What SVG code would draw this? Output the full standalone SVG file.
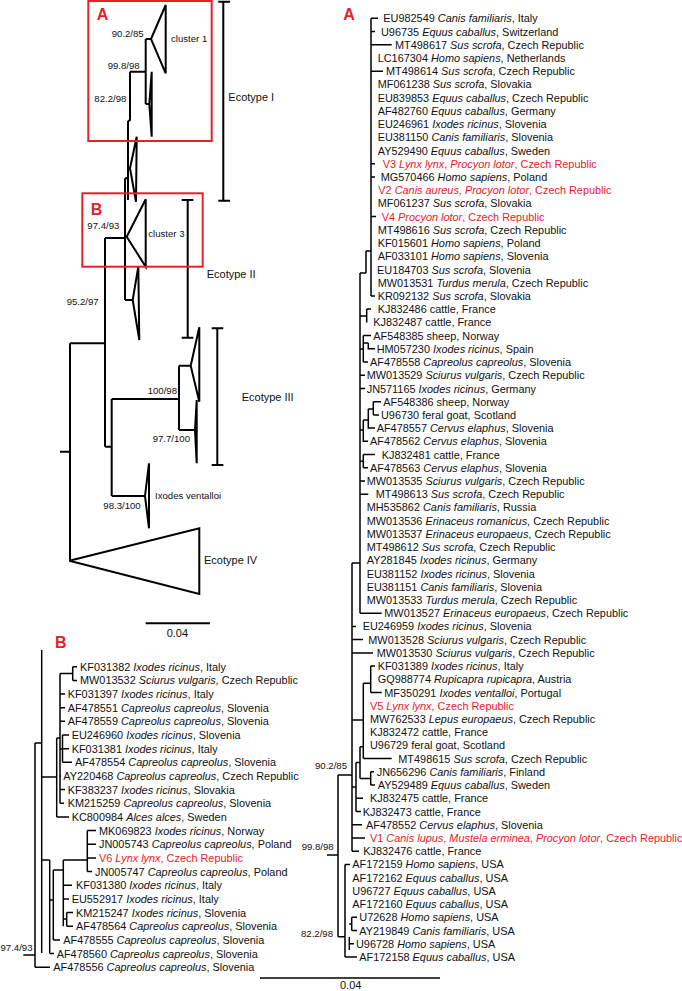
<svg xmlns="http://www.w3.org/2000/svg" width="682" height="991" viewBox="0 0 682 991">
<style>
.t{font-family:"Liberation Sans",Arial,sans-serif;font-size:10.9px;fill:#111}
.r{fill:#e8202a}
.i{font-style:italic}
.s{font-family:"Liberation Sans",Arial,sans-serif;font-size:9.6px;fill:#111}
.e{font-family:"Liberation Sans",Arial,sans-serif;font-size:11px;fill:#111}
.big{font-family:"Liberation Sans",Arial,sans-serif;font-size:16px;font-weight:bold;fill:#e8202a}
.br{stroke:#000;stroke-width:1.5;fill:none}
.ov{stroke:#000;stroke-width:2;fill:none;stroke-linejoin:miter}
.box{stroke:#e8202a;stroke-width:2;fill:none}
</style>
<rect width="682" height="991" fill="#fff"/>

<!-- Overview tree -->
<g id="overview">
  <g id="ov-connectors">
    <path class="ov" d="M60,451.7H70M70,343.3V560.7M70,343.3H105M105,238V446.7M105,446.7H111.7M111.7,399V496M111.7,399H179M179,365.7V430M179,365.7H190.7M179,430H195M111.7,496H145"/>
    <path class="ov" d="M105,238H125M125,178.3V300M125,300H132.7M125,178.3H128M128,120.7V200M128,120.7H130M130,71.7V120.7M130,71.7H145.7M145.7,39V104M145.7,39H151M145.7,104H149.3M128,168.3H130"/>
  </g>
  <g id="ov-cluster1"><polygon class="ov" points="151,39 165.7,5 165.7,73.3"/><text class="s" x="171" y="41.8">cluster 1</text></g>
  <g id="ov-usa"><polygon class="ov" points="149.3,104 151.7,71.7 151.7,136.7"/></g>
  <g id="ov-clade2"><polygon class="ov" points="130,168.3 136.7,136.7 136,201.7"/></g>
  <g id="ov-cluster3"><polygon class="ov" points="126.7,236.7 145.7,199.3 145.7,266.7"/><text class="s" x="148.3" y="236.8">cluster 3</text></g>
  <g id="ov-clade4"><polygon class="ov" points="132.7,300 138.3,266.7 139.3,340"/></g>
  <g id="ov-eco3a"><polygon class="ov" points="190.7,365.7 199.3,327.3 199.3,401.7"/></g>
  <g id="ov-eco3b"><polygon class="ov" points="195,430 196.7,400 196.7,463.3"/></g>
  <g id="ov-ventalloi"><polygon class="ov" points="145,496 149,463.3 149,528.3"/><text class="s" x="155" y="498.5">Ixodes ventalloi</text></g>
  <g id="ov-eco4"><polygon class="ov" points="69.3,560.7 199.3,528.3 199.3,594"/><text class="e" x="204" y="564">Ecotype IV</text></g>
  <g id="ov-support">
    <text class="s" x="111.7" y="37.3">90.2/85</text>
    <text class="s" x="107.7" y="68.5">99.8/98</text>
    <text class="s" x="94.3" y="101.8">82.2/98</text>
    <text class="s" x="87.3" y="228.5">97.4/93</text>
    <text class="s" x="66.7" y="305">95.2/97</text>
    <text class="s" x="147.7" y="394">100/98</text>
    <text class="s" x="152.7" y="442">97.7/100</text>
    <text class="s" x="103.3" y="508.5">98.3/100</text>
  </g>
  <g id="ov-ecotypes">
    <path class="ov" d="M223.3,1.7V200.7M218.3,1.7H230M218.3,200.7H230"/>
    <text class="e" x="228.3" y="100.7">Ecotype I</text>
    <path class="ov" d="M187.7,200V337.7M181.7,200H193.3M181.7,337.7H193.3"/>
    <text class="e" x="206.7" y="278">Ecotype II</text>
    <path class="ov" d="M217.3,328.3V465M211.7,328.3H223.3M211.7,465H223.3"/>
    <text class="e" x="241.7" y="400.7">Ecotype III</text>
  </g>
  <g id="ov-boxA"><rect class="box" x="88.3" y="1" width="123.4" height="140"/><text class="big" x="96.7" y="20">A</text></g>
  <g id="ov-boxB"><rect class="box" x="82.3" y="193.3" width="120.4" height="73.4"/><text class="big" x="90.7" y="215">B</text></g>
  <g id="ov-scale"><path class="ov" d="M145.7,623.3H210"/><text class="e" x="166.7" y="637.3">0.04</text></g>
</g>

<!-- Panel A -->
<g id="panelA">
  <text class="big" x="343.3" y="20">A</text>
  <g id="A-connectors">
    <path class="br" d="M371,18.3V295.9M371,18.3H378M371,31.5H375M371,44.7H391.7M371,71.2H383M371,163.7H375M371,176.9H375M371,216.6H376M371,295.9H375M366,251H371M366,251V273M360,273H366"/>
    <path class="br" d="M360,273V613.2M360,316H366.7M366.7,309.1V322.4M366.7,309.1H371M360,349H363.3M363.3,335.6V362M363.3,335.6H371M363.3,343H368.3M368.3,343V348.8H375M363.3,362H368M360,375.2H365M360,388.5H365M360,430H363.3M363.3,420V441.3H368M363.3,420H368.3M368.3,409V428.1H375M368.3,409H373.3M373.3,401.7V414.9M373.3,401.7H381M373.3,414.9H379M360,461.2H363.3M363.3,454.6V467.8M363.3,454.6H375M363.3,467.8H368M360,481H365M360,494.2H368.3M360,613.2H381.7"/>
    <path class="br" d="M352,563H360M352,563V851.2M352,626.4H356M352,639.6H363M352,652.9H373M352,720H363.3M363.3,683.3V758.6M363.3,683.3H370.7M370.7,666.1V692.5M370.7,666.1H375M370.7,692.5H381.7M363.3,758.6H391.7M360,746.7H363.3M360,746.7V778.4M360,778.4H370.7M370.7,771.8V785.1M370.7,771.8H374M370.7,785.1H375M356,762.5H360M356,762.5V811.5M356,798.3H363M356,811.5H361M352,787H356M352,824.7H362M352,837.9H365M352,851.2H359M338,775H352"/>
    <path class="br" d="M327,855H338M338,775V936.7M338,936.7H345M345,864.4V956.9M345,864.4H350M349.3,937V950M349.3,924H351.7M351.7,917.3V930.5M351.7,917.3H357M351.7,930.5H357M349.3,943.7H354M345,956.9H357"/>
  </g>
  <g id="A-support">
    <text class="s" x="315" y="768.5">90.2/85</text>
    <text class="s" x="301.7" y="849.5">99.8/98</text>
    <text class="s" x="301" y="937">82.2/98</text>
  </g>
  <g id="A-leaves" class="t">
<text id="a1" x="383.3" y="22.3">EU982549 <tspan class="i">Canis familiaris</tspan>, Italy</text>
<text id="a2" x="381" y="35.5">U96735 <tspan class="i">Equus caballus</tspan>, Switzerland</text>
<text id="a3" x="395" y="48.7">MT498617 <tspan class="i">Sus scrofa</tspan>, Czech Republic</text>
<text id="a4" x="377.7" y="62.0">LC167304 <tspan class="i">Homo sapiens</tspan>, Netherlands</text>
<text id="a5" x="386" y="75.2">MT498614 <tspan class="i">Sus scrofa</tspan>, Czech Republic</text>
<text id="a6" x="377.7" y="88.4">MF061238 <tspan class="i">Sus scrofa</tspan>, Slovakia</text>
<text id="a7" x="377.7" y="101.6">EU839853 <tspan class="i">Equus caballus</tspan>, Czech Republic</text>
<text id="a8" x="377.7" y="114.8">AF482760 <tspan class="i">Equus caballus</tspan>, Germany</text>
<text id="a9" x="377.7" y="128.1">EU246961 <tspan class="i">Ixodes ricinus</tspan>, Slovenia</text>
<text id="a10" x="377.7" y="141.3">EU381150 <tspan class="i">Canis familiaris</tspan>, Slovenia</text>
<text id="a11" x="377.7" y="154.5">AY529490 <tspan class="i">Equus caballus</tspan>, Sweden</text>
<text id="a12" class="r" x="382.7" y="167.7">V3 <tspan class="i">Lynx lynx</tspan>, <tspan class="i">Procyon lotor</tspan>, Czech Republic</text>
<text id="a13" x="380.7" y="180.9">MG570466 <tspan class="i">Homo sapiens</tspan>, Poland</text>
<text id="a14" class="r" x="378.3" y="194.2">V2 <tspan class="i">Canis aureus</tspan>, <tspan class="i">Procyon lotor</tspan>, Czech Republic</text>
<text id="a15" x="377.7" y="207.4">MF061237 <tspan class="i">Sus scrofa</tspan>, Slovakia</text>
<text id="a16" class="r" x="381.7" y="220.6">V4 <tspan class="i">Procyon lotor</tspan>, Czech Republic</text>
<text id="a17" x="377.7" y="233.8">MT498616 <tspan class="i">Sus scrofa</tspan>, Czech Republic</text>
<text id="a18" x="377.7" y="247.0">KF015601 <tspan class="i">Homo sapiens</tspan>, Poland</text>
<text id="a19" x="377.7" y="260.3">AF033101 <tspan class="i">Homo sapiens</tspan>, Slovenia</text>
<text id="a20" x="377" y="273.5">EU184703 <tspan class="i">Sus scrofa</tspan>, Slovenia</text>
<text id="a21" x="377.7" y="286.7">MW013531 <tspan class="i">Turdus merula</tspan>, Czech Republic</text>
<text id="a22" x="377.7" y="299.9">KR092132 <tspan class="i">Sus scrofa</tspan>, Slovakia</text>
<text id="a23" x="377.7" y="313.1">KJ832486 cattle, France</text>
<text id="a24" x="373.3" y="326.4">KJ832487 cattle, France</text>
<text id="a25" x="373.3" y="339.6">AF548385 sheep, Norway</text>
<text id="a26" x="376.7" y="352.8">HM057230 <tspan class="i">Ixodes ricinus</tspan>, Spain</text>
<text id="a27" x="370" y="366.0">AF478558 <tspan class="i">Capreolus capreolus</tspan>, Slovenia</text>
<text id="a28" x="366.7" y="379.2">MW013529 <tspan class="i">Sciurus vulgaris</tspan>, Czech Republic</text>
<text id="a29" x="366.7" y="392.5">JN571165 <tspan class="i">Ixodes ricinus</tspan>, Germany</text>
<text id="a30" x="383.3" y="405.7">AF548386 sheep, Norway</text>
<text id="a31" x="381" y="418.9">U96730 feral goat, Scotland</text>
<text id="a32" x="376.7" y="432.1">AF478557 <tspan class="i">Cervus elaphus</tspan>, Slovenia</text>
<text id="a33" x="370" y="445.3">AF478562 <tspan class="i">Cervus elaphus</tspan>, Slovenia</text>
<text id="a34" x="381.7" y="458.6">KJ832481 cattle, France</text>
<text id="a35" x="370" y="471.8">AF478563 <tspan class="i">Cervus elaphus</tspan>, Slovenia</text>
<text id="a36" x="366.7" y="485.0">MW013535 <tspan class="i">Sciurus vulgaris</tspan>, Czech Republic</text>
<text id="a37" x="375.7" y="498.2">MT498613 <tspan class="i">Sus scrofa</tspan>, Czech Republic</text>
<text id="a38" x="366.7" y="511.4">MH535862 <tspan class="i">Canis familiaris</tspan>, Russia</text>
<text id="a39" x="366.7" y="524.7">MW013536 <tspan class="i">Erinaceus romanicus</tspan>, Czech Republic</text>
<text id="a40" x="366.7" y="537.9">MW013537 <tspan class="i">Erinaceus europaeus</tspan>, Czech Republic</text>
<text id="a41" x="366.7" y="551.1">MT498612 <tspan class="i">Sus scrofa</tspan>, Czech Republic</text>
<text id="a42" x="366.7" y="564.3">AY281845 <tspan class="i">Ixodes ricinus</tspan>, Germany</text>
<text id="a43" x="366.7" y="577.5">EU381152 <tspan class="i">Ixodes ricinus</tspan>, Slovenia</text>
<text id="a44" x="366.7" y="590.8">EU381151 <tspan class="i">Canis familiaris</tspan>, Slovenia</text>
<text id="a45" x="366.7" y="604.0">MW013533 <tspan class="i">Turdus merula</tspan>, Czech Republic</text>
<text id="a46" x="384.3" y="617.2">MW013527 <tspan class="i">Erinaceus europaeus</tspan>, Czech Republic</text>
<text id="a47" x="362.7" y="630.4">EU246959 <tspan class="i">Ixodes ricinus</tspan>, Slovenia</text>
<text id="a48" x="368.3" y="643.6">MW013528 <tspan class="i">Sciurus vulgaris</tspan>, Czech Republic</text>
<text id="a49" x="376.7" y="656.9">MW013530 <tspan class="i">Sciurus vulgaris</tspan>, Czech Republic</text>
<text id="a50" x="377.7" y="670.1">KF031389 <tspan class="i">Ixodes ricinus</tspan>, Italy</text>
<text id="a51" x="377.7" y="683.3">GQ988774 <tspan class="i">Rupicapra rupicapra</tspan>, Austria</text>
<text id="a52" x="384.3" y="696.5">MF350291 <tspan class="i">Ixodes ventalloi</tspan>, Portugal</text>
<text id="a53" class="r" x="370" y="709.7">V5 <tspan class="i">Lynx lynx</tspan>, Czech Republic</text>
<text id="a54" x="370" y="723.0">MW762533 <tspan class="i">Lepus europaeus</tspan>, Czech Republic</text>
<text id="a55" x="370" y="736.2">KJ832472 cattle, France</text>
<text id="a56" x="370" y="749.4">U96729 feral goat, Scotland</text>
<text id="a57" x="398.3" y="762.6">MT498615 <tspan class="i">Sus scrofa</tspan>, Czech Republic</text>
<text id="a58" x="376.7" y="775.8">JN656296 <tspan class="i">Canis familiaris</tspan>, Finland</text>
<text id="a59" x="377.7" y="789.1">AY529489 <tspan class="i">Equus caballus</tspan>, Sweden</text>
<text id="a60" x="370" y="802.3">KJ832475 cattle, France</text>
<text id="a61" x="362.7" y="815.5">KJ832473 cattle, France</text>
<text id="a62" x="366" y="828.7">AF478552 <tspan class="i">Cervus elaphus</tspan>, Slovenia</text>
<text id="a63" class="r" x="370" y="841.9">V1 <tspan class="i">Canis lupus</tspan>, <tspan class="i">Mustela erminea</tspan>, <tspan class="i">Procyon lotor</tspan>, Czech Republic</text>
<text id="a64" x="363.3" y="855.2">KJ832476 cattle, France</text>
<text id="a65" x="352.3" y="868.4">AF172159 <tspan class="i">Homo sapiens</tspan>, USA</text>
<text id="a66" x="352.3" y="881.6">AF172162 <tspan class="i">Equus caballus</tspan>, USA</text>
<text id="a67" x="352.3" y="894.8">U96727 <tspan class="i">Equus caballus</tspan>, USA</text>
<text id="a68" x="352.3" y="908.0">AF172160 <tspan class="i">Equus caballus</tspan>, USA</text>
<text id="a69" x="359.3" y="921.3">U72628 <tspan class="i">Homo sapiens</tspan>, USA</text>
<text id="a70" x="359.3" y="934.5">AY219849 <tspan class="i">Canis familiaris</tspan>, USA</text>
<text id="a71" x="356" y="947.7">U96728 <tspan class="i">Homo sapiens</tspan>, USA</text>
<text id="a72" x="359.3" y="960.9">AF172158 <tspan class="i">Equus caballus</tspan>, USA</text>
  </g>
  <g id="A-scale"><path class="br" d="M260,978H440"/><text class="e" x="340" y="989">0.04</text></g>
</g>

<!-- Panel B -->
<g id="panelB">
  <text class="big" x="55" y="648.3">B</text>
  <g id="B-connectors">
    <path class="br" d="M41.7,650V953M35,743H41.7M35,743V967.2M35,967.2H50M23.3,955H35"/>
    <path class="br" d="M41.7,777H56.7M56.7,738V817M56.7,817H69M56.7,738H60M60,673.5V803.3M60,673.5H72.7M72.7,666.7V680.4M72.7,666.7H77M72.7,680.4H77M60,694H65M60,707.7H65M60,721.3H65M60,776H61M60,789.6H65M60,803.3H64M60,749H62.5M62.5,735V762.3M62.5,735H69M62.5,748.7H69M62.5,762.3H72"/>
    <path class="br" d="M41.7,860H49.7M49.7,860V953.6M49.7,953.6H54M49.7,900H53.3M53.3,870V939.9M53.3,939.9H60M53.3,870H63.3M63.3,860V926.2M63.3,860H87.3M87.3,830.6V871.6M87.3,830.6H96M87.3,844.3H96M87.3,857.9H96M87.3,871.6H92M63.3,885.3H72M63.3,898.9H69M63.3,919H66.7M66.7,912.6V926.2M66.7,912.6H73M66.7,926.2H73"/>
  </g>
  <text class="s" x="0.5" y="950.5">97.4/93</text>
  <g id="B-leaves" class="t">
<text id="b1" x="80" y="670.7">KF031382 <tspan class="i">Ixodes ricinus</tspan>, Italy</text>
<text id="b2" x="80" y="684.4">MW013532 <tspan class="i">Sciurus vulgaris</tspan>, Czech Republic</text>
<text id="b3" x="67.7" y="698.0">KF031397 <tspan class="i">Ixodes ricinus</tspan>, Italy</text>
<text id="b4" x="67.7" y="711.7">AF478551 <tspan class="i">Capreolus capreolus</tspan>, Slovenia</text>
<text id="b5" x="67.7" y="725.3">AF478559 <tspan class="i">Capreolus capreolus</tspan>, Slovenia</text>
<text id="b6" x="71.7" y="739.0">EU246960 <tspan class="i">Ixodes ricinus</tspan>, Slovenia</text>
<text id="b7" x="71.7" y="752.7">KF031381 <tspan class="i">Ixodes ricinus</tspan>, Italy</text>
<text id="b8" x="75" y="766.3">AF478554 <tspan class="i">Capreolus capreolus</tspan>, Slovenia</text>
<text id="b9" x="63.3" y="780.0">AY220468 <tspan class="i">Capreolus capreolus</tspan>, Czech Republic</text>
<text id="b10" x="67.7" y="793.6">KF383237 <tspan class="i">Ixodes ricinus</tspan>, Slovakia</text>
<text id="b11" x="67.7" y="807.3">KM215259 <tspan class="i">Capreolus capreolus</tspan>, Slovenia</text>
<text id="b12" x="71.7" y="821.0">KC800984 <tspan class="i">Alces alces</tspan>, Sweden</text>
<text id="b13" x="99" y="834.6">MK069823 <tspan class="i">Ixodes ricinus</tspan>, Norway</text>
<text id="b14" x="99" y="848.3">JN005743 <tspan class="i">Capreolus capreolus</tspan>, Poland</text>
<text id="b15" class="r" x="99" y="861.9">V6 <tspan class="i">Lynx lynx</tspan>, Czech Republic</text>
<text id="b16" x="95" y="875.6">JN005747 <tspan class="i">Capreolus capreolus</tspan>, Poland</text>
<text id="b17" x="76" y="889.3">KF031380 <tspan class="i">Ixodes ricinus</tspan>, Italy</text>
<text id="b18" x="71.7" y="902.9">EU552917 <tspan class="i">Ixodes ricinus</tspan>, Italy</text>
<text id="b19" x="76" y="916.6">KM215247 <tspan class="i">Ixodes ricinus</tspan>, Slovenia</text>
<text id="b20" x="76" y="930.2">AF478564 <tspan class="i">Capreolus capreolus</tspan>, Slovenia</text>
<text id="b21" x="63.3" y="943.9">AF478555 <tspan class="i">Capreolus capreolus</tspan>, Slovenia</text>
<text id="b22" x="56.7" y="957.6">AF478560 <tspan class="i">Capreolus capreolus</tspan>, Slovenia</text>
<text id="b23" x="53.3" y="971.2">AF478556 <tspan class="i">Capreolus capreolus</tspan>, Slovenia</text>
  </g>
</g>
</svg>
